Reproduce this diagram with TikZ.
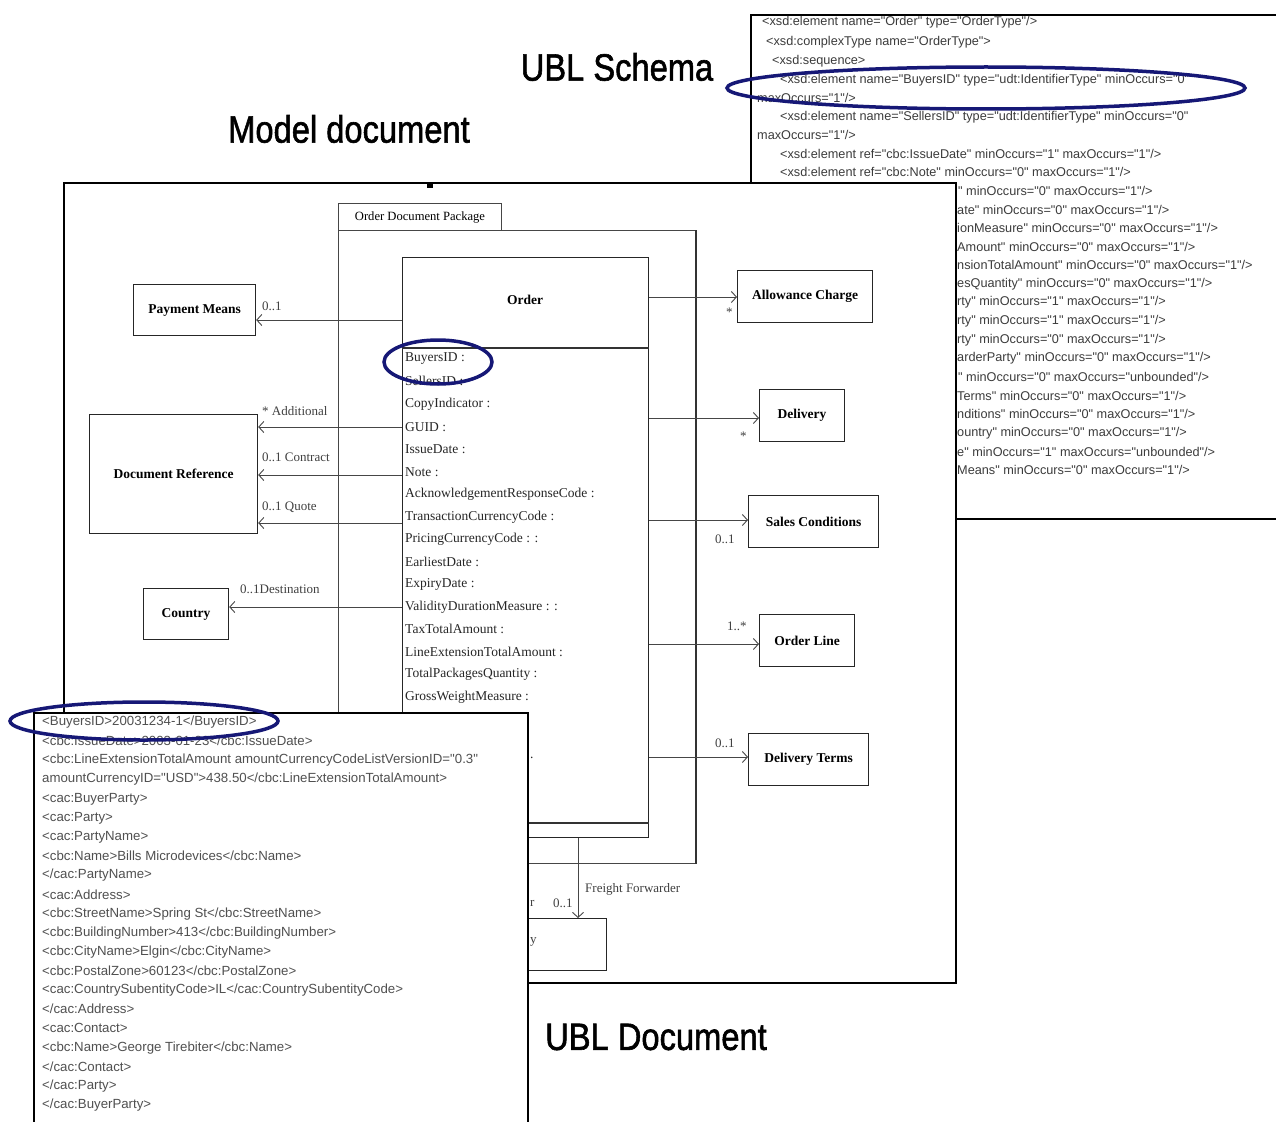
\documentclass[tikz,border=0pt]{standalone}
\usepackage{fontspec}
\setmainfont{Liberation Serif}
\newfontfamily\arial{Liberation Sans}
\newfontfamily\arialheavy[FakeBold=1.6]{Liberation Sans}
\usetikzlibrary{arrows.meta}
\definecolor{ovalblue}{RGB}{22,24,118}
\definecolor{codegray}{RGB}{60,60,60}
\definecolor{xmlgray}{RGB}{80,80,80}
\definecolor{linegray}{RGB}{70,70,70}
\tikzset{
  frame/.style={draw=black, line width=2pt, fill=white},
  classbox/.style={draw=black!85, line width=1.2pt, fill=white, inner sep=0pt,
    font=\fontsize{13.5}{14}\selectfont\bfseries},
  pkgbox/.style={draw=linegray, line width=1pt, inner sep=0pt},
  attr/.style={anchor=west, inner sep=0pt, font=\fontsize{13.5}{14}\selectfont, text=black!85},
  role/.style={anchor=west, inner sep=0pt, font=\fontsize{13}{14}\selectfont, text=black!75},
  assoc/.style={draw=linegray, line width=0.9pt, -{Straight Barb[length=5pt,width=11pt]}},
  schemaline/.style={anchor=west, inner sep=0pt, text=codegray, font=\arial\fontsize{12.7}{13}\selectfont},
  xmlline/.style={anchor=west, inner sep=0pt, text=xmlgray, font=\arial\fontsize{13.25}{14}\selectfont},
  heading/.style={inner sep=0pt, font=\arialheavy\fontsize{38}{40}\selectfont, xscale=0.86},
  oval/.style={draw=ovalblue, line width=3.5pt}
}
\begin{document}
\begin{tikzpicture}[x=1pt,y=-1pt]
\useasboundingbox (0,0) rectangle (1276,1121);
\clip (0,0) rectangle (1276,1121);
\fill[white] (0,0) rectangle (1276,1121);

% ---------- XML schema sheet ----------
\node[frame, anchor=north west, minimum width=600pt, minimum height=504pt] (schema) at (750,14) {};
\node[schemaline] (s1) at (762,22) {<xsd:element name="Order" type="OrderType"/>};
\node[schemaline] (s2) at (766,42) {<xsd:complexType name="OrderType">};
\node[schemaline] (s3) at (772,61) {<xsd:sequence>};
\node[schemaline] (s4) at (780,80) {<xsd:element name="BuyersID" type="udt:IdentifierType" minOccurs="0"};
\node[schemaline] (s5) at (757,98) {maxOccurs="1"/>};
\node[schemaline] (s6) at (780,117) {<xsd:element name="SellersID" type="udt:IdentifierType" minOccurs="0"};
\node[schemaline] (s7) at (757,135) {maxOccurs="1"/>};
\node[schemaline] (s8) at (780,154) {<xsd:element ref="cbc:IssueDate" minOccurs="1" maxOccurs="1"/>};
\node[schemaline] (s9) at (780,172) {<xsd:element ref="cbc:Note" minOccurs="0" maxOccurs="1"/>};
\node[schemaline] (f1) at (958,191) {" minOccurs="0" maxOccurs="1"/>};
\node[schemaline] (f2) at (957,210) {ate" minOccurs="0" maxOccurs="1"/>};
\node[schemaline] (f3) at (957,228) {ionMeasure" minOccurs="0" maxOccurs="1"/>};
\node[schemaline] (f4) at (957,247) {Amount" minOccurs="0" maxOccurs="1"/>};
\node[schemaline] (f5) at (957,265) {nsionTotalAmount" minOccurs="0" maxOccurs="1"/>};
\node[schemaline] (f6) at (957,284) {esQuantity" minOccurs="0" maxOccurs="1"/>};
\node[schemaline] (f7) at (957,302) {rty" minOccurs="1" maxOccurs="1"/>};
\node[schemaline] (f8) at (957,321) {rty" minOccurs="1" maxOccurs="1"/>};
\node[schemaline] (f9) at (957,340) {rty" minOccurs="0" maxOccurs="1"/>};
\node[schemaline] (f10) at (957,358) {arderParty" minOccurs="0" maxOccurs="1"/>};
\node[schemaline] (f11) at (958,377) {" minOccurs="0" maxOccurs="unbounded"/>};
\node[schemaline] (f12) at (957,396) {Terms" minOccurs="0" maxOccurs="1"/>};
\node[schemaline] (f13) at (957,414) {nditions" minOccurs="0" maxOccurs="1"/>};
\node[schemaline] (f14) at (957,433) {ountry" minOccurs="0" maxOccurs="1"/>};
\node[schemaline] (f15) at (957,452) {e" minOccurs="1" maxOccurs="unbounded"/>};
\node[schemaline] (f16) at (957,470) {Means" minOccurs="0" maxOccurs="1"/>};
\draw[oval] (986,88) ellipse [x radius=259, y radius=21];

% ---------- headings ----------
\node[heading] (t1) at (617,67) {UBL Schema};
\node[heading] (t2) at (349,129) {Model document};

% ---------- UML model sheet ----------
\node[frame, anchor=north west, minimum width=892pt, minimum height=800pt] (model) at (63,182) {};
\fill (427,182) rectangle (433,188);

% package
\node[pkgbox, anchor=north west, minimum width=163pt, minimum height=27pt,
  font=\fontsize{12.6}{13}\selectfont] (pkgtab) at (338,203) {Order Document Package};
\node[pkgbox, anchor=north west, minimum width=357pt, minimum height=633pt] (pkg) at (338,230) {};
\draw[line width=1.6pt, black!80] (pkg.north east) -- (pkg.south east);

% Order class
\node[classbox, anchor=north west, minimum width=246pt, minimum height=580pt] (order) at (402,257) {};
\node[inner sep=0pt, font=\fontsize{13.5}{14}\selectfont\bfseries] (ordername) at (525,300) {Order};
\draw[line width=2pt, black!80] (order.west |- 0,348) -- (order.east |- 0,348);
\draw[line width=1.6pt, black!80] (order.west |- 0,823) -- (order.east |- 0,823);

\node[attr] (a1) at (405,359) {BuyersID :};
\node[attr] (a2) at (405,381) {SellersID :};
\node[attr] (a3) at (405,404) {CopyIndicator :};
\node[attr] (a4) at (405,427) {GUID :};
\node[attr] (a5) at (405,449) {IssueDate :};
\node[attr] (a6) at (405,472) {Note :};
\node[attr] (a7) at (405,494) {AcknowledgementResponseCode :};
\node[attr] (a8) at (405,517) {TransactionCurrencyCode :};
\node[attr] (a9) at (405,539) {PricingCurrencyCode : :};
\node[attr] (a10) at (405,562) {EarliestDate :};
\node[attr] (a11) at (405,584) {ExpiryDate :};
\node[attr] (a12) at (405,607) {ValidityDurationMeasure : :};
\node[attr] (a13) at (405,629) {TaxTotalAmount :};
\node[attr] (a14) at (405,652) {LineExtensionTotalAmount :};
\node[attr] (a15) at (405,674) {TotalPackagesQuantity :};
\node[attr] (a16) at (405,697) {GrossWeightMeasure :};
\node[attr] (a17) at (530,758) {.};
\draw[oval] (438,362) ellipse [x radius=54, y radius=22];

% associated classes, left
\node[classbox, anchor=north west, minimum width=122pt, minimum height=51pt] (pay) at (133,284) {Payment Means};
\node[classbox, anchor=north west, minimum width=168pt, minimum height=119pt] (docref) at (89,414) {Document Reference};
\node[classbox, anchor=north west, minimum width=85pt, minimum height=51pt] (country) at (143,588) {Country};

\draw[assoc] (order.west |- 0,320) -- (pay.east |- 0,320);
\draw[assoc] (order.west |- 0,427) -- (docref.east |- 0,427);
\draw[assoc] (order.west |- 0,475) -- (docref.east |- 0,475);
\draw[assoc] (order.west |- 0,523) -- (docref.east |- 0,523);
\draw[assoc] (order.west |- 0,607) -- (country.east |- 0,607);
\node[role] (r1) at (262,306) {0..1};
\node[role] (r2) at (262,411) {* Additional};
\node[role] (r3) at (262,457) {0..1 Contract};
\node[role] (r4) at (262,507) {0..1 Quote};
\node[role] (r5) at (240,589) {0..1Destination};

% associated classes, right
\node[classbox, anchor=north west, minimum width=135pt, minimum height=52pt] (allow) at (737,270) {Allowance Charge};
\node[classbox, anchor=north west, minimum width=85pt, minimum height=52pt] (deliv) at (759,389) {Delivery};
\node[classbox, anchor=north west, minimum width=130pt, minimum height=52pt] (sales) at (748,495) {Sales Conditions};
\node[classbox, anchor=north west, minimum width=95pt, minimum height=52pt] (oline) at (759,614) {Order Line};
\node[classbox, anchor=north west, minimum width=120pt, minimum height=52pt] (dterms) at (748,733) {Delivery Terms};

\draw[assoc] (order.east |- 0,297) -- (allow.west |- 0,297);
\draw[assoc] (order.east |- 0,418) -- (deliv.west |- 0,418);
\draw[assoc] (order.east |- 0,520) -- (sales.west |- 0,520);
\draw[assoc] (order.east |- 0,644) -- (oline.west |- 0,644);
\draw[assoc] (order.east |- 0,757) -- (dterms.west |- 0,757);
\node[role] (r6) at (726,312) {*};
\node[role] (r7) at (740,436) {*};
\node[role] (r8) at (715,539) {0..1};
\node[role] (r9) at (727,626) {1..*};
\node[role] (r10) at (715,743) {0..1};

% freight forwarder party
\node[classbox, anchor=north east, minimum width=120pt, minimum height=52pt] (party) at (607,918) {};
\draw[assoc] (order.south west -| 578,0) -- (party.north west -| 578,0);
\node[role] (r11) at (585,889) {Freight Forwarder};
\node[role] (r12) at (553,903) {0..1};
\node[role] (r13) at (530,903) {r};
\node[role] (r14) at (530,942) {y};

% ---------- UBL instance document ----------
\node[frame, anchor=north west, minimum width=494pt, minimum height=440pt] (xml) at (33,712) {};
\node[xmlline] (x1) at (42,722) {<BuyersID>20031234-1</BuyersID>};
\node[xmlline] (x2) at (42,741) {<cbc:IssueDate>2003-01-23</cbc:IssueDate>};
\node[xmlline] (x3) at (42,760) {<cbc:LineExtensionTotalAmount amountCurrencyCodeListVersionID="0.3"};
\node[xmlline] (x4) at (42,779) {amountCurrencyID="USD">438.50</cbc:LineExtensionTotalAmount>};
\node[xmlline] (x5) at (42,799) {<cac:BuyerParty>};
\node[xmlline] (x6) at (42,818) {<cac:Party>};
\node[xmlline] (x7) at (42,837) {<cac:PartyName>};
\node[xmlline] (x8) at (42,856) {<cbc:Name>Bills Microdevices</cbc:Name>};
\node[xmlline] (x9) at (42,875) {</cac:PartyName>};
\node[xmlline] (x10) at (42,895) {<cac:Address>};
\node[xmlline] (x11) at (42,914) {<cbc:StreetName>Spring St</cbc:StreetName>};
\node[xmlline] (x12) at (42,933) {<cbc:BuildingNumber>413</cbc:BuildingNumber>};
\node[xmlline] (x13) at (42,952) {<cbc:CityName>Elgin</cbc:CityName>};
\node[xmlline] (x14) at (42,971) {<cbc:PostalZone>60123</cbc:PostalZone>};
\node[xmlline] (x15) at (42,990) {<cac:CountrySubentityCode>IL</cac:CountrySubentityCode>};
\node[xmlline] (x16) at (42,1009) {</cac:Address>};
\node[xmlline] (x17) at (42,1028) {<cac:Contact>};
\node[xmlline] (x18) at (42,1048) {<cbc:Name>George Tirebiter</cbc:Name>};
\node[xmlline] (x19) at (42,1067) {</cac:Contact>};
\node[xmlline] (x20) at (42,1086) {</cac:Party>};
\node[xmlline] (x21) at (42,1105) {</cac:BuyerParty>};
\draw[oval] (144,721) ellipse [x radius=134, y radius=19];
\node[heading] (t3) at (656,1037) {UBL Document};
\end{tikzpicture}
\end{document}
